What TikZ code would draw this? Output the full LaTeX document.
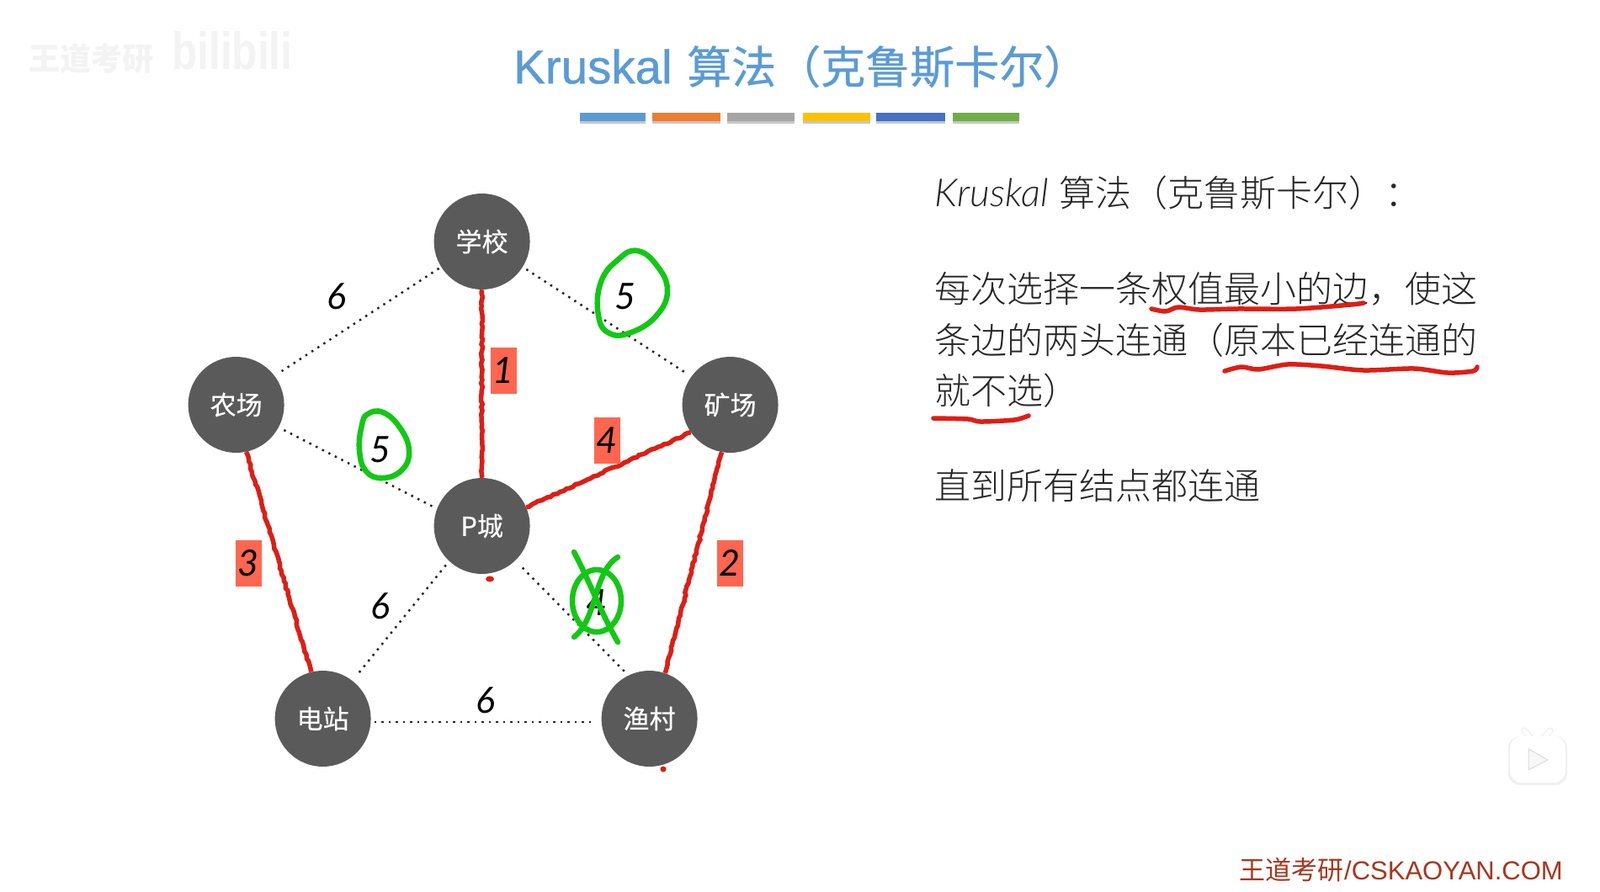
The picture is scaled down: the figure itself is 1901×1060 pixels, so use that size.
\documentclass[tikz,border=0pt]{standalone}
\usepackage{fontspec}
\setmainfont{Liberation Sans}
\newfontfamily\cjk{Noto Sans CJK SC}
\newfontfamily\cjklight{Noto Sans CJK SC Light}
\newfontfamily\cjkmid[FakeBold=0.35]{Noto Sans CJK SC}
\newfontfamily\cjktitle[FakeBold=0.6]{Noto Sans CJK SC}
\newfontfamily\lattitle[FakeBold=0.8]{Liberation Sans}
\newfontfamily\lightf{Lato Light}
\newfontfamily\regf{Lato}
\usetikzlibrary{decorations.pathmorphing}
\definecolor{nodegray}{HTML}{5A5A5A}
\definecolor{titleblue}{HTML}{5B9BD5}
\definecolor{boxred}{HTML}{FF6650}
\definecolor{penred}{HTML}{DD1E16}
\definecolor{pengreen}{HTML}{12C814}
\definecolor{footred}{HTML}{A8361C}
\definecolor{wm}{HTML}{F3F3F3}
\tikzset{
 city/.style={circle,fill=nodegray,minimum size=114pt,inner sep=0pt,text=white,font=\fontsize{31}{31}\selectfont\cjkmid},
 dotedge/.style={black!85,line width=2.5pt,dash pattern=on 2.5pt off 6pt},
 rededge/.style={penred,line width=5.5pt,decorate,decoration={random steps,segment length=4pt,amplitude=1pt}},
 weight/.style={font=\fontsize{43}{43}\selectfont\regf\itshape,inner sep=0pt},
 tag/.style={fill=boxred,minimum width=31pt,minimum height=55pt,inner sep=0pt,font=\fontsize{43}{43}\selectfont\regf\itshape},
 body/.style={anchor=west,inner sep=0pt,text=black!85,font=\fontsize{43}{43}\selectfont\cjklight},
 greenpen/.style={pengreen,line width=6.5pt,line cap=round,line join=round},
 redpen/.style={penred,line width=5.5pt,line cap=round,line join=round},
}
\begin{document}
\begin{tikzpicture}[x=1pt,y=-1pt]
\path[use as bounding box,fill=white] (0,0) rectangle (1901,1060);
% watermark
\node[text=wm,anchor=west,inner sep=0pt,font=\fontsize{37}{37}\selectfont\cjk\bfseries] (wmA) at (34,69) {王道考研};
\node[text=wm,anchor=west,inner sep=0pt,xscale=.8,font=\fontsize{62}{62}\selectfont\bfseries] (wmB) at (204,60) {bilibili};
% title
\node[anchor=west,inner sep=0pt,text=titleblue,font=\fontsize{56.5}{56.5}\selectfont\lattitle] (titleA) at (610,79) {Kruskal};
\node[anchor=west,inner sep=0pt,text=titleblue,font=\fontsize{53}{53}\selectfont\cjktitle] (titleB) at (816,79) {算法（克鲁斯卡尔）};
% bars
\foreach \xa/\xb/\col in {689/767/5B9BD5,775/856/ED7D31,864/944/A5A5A5,954/1034/FFC000,1041/1123/4472C4,1132/1211/70AD47}{
 \fill[black!22] (\xa,143) rectangle (\xb,147);
 \definecolor{barcol}{HTML}{\col}
 \fill[barcol] (\xa,134) rectangle (\xb,144);
}
% cities
\node[city] (school) at (572.6,287) {学校};
\node[city] (farm) at (280.6,481) {农场};
\node[city] (mine) at (867.6,481) {矿场};
\node[city] (pcity) at (572.6,625) {P城};
\node[city] (plant) at (383.6,854) {电站};
\node[city] (fish) at (771.6,854) {渔村};
% dotted edges
\draw[dotedge,shorten <=3pt,shorten >=10pt] (school.212) -- (farm.37);
\draw[dotedge,shorten <=5pt,shorten >=6pt] (school.-32) -- (mine.144);
\draw[dotedge,shorten <=7pt,shorten >=1pt] (farm.-28) -- (pcity.159);
\draw[dotedge,shorten <=6pt,shorten >=10pt] (pcity.-133) -- (plant.52);
\draw[dotedge,shorten <=12pt,shorten >=6pt] (pcity.-46) -- (fish.116);
\draw[dotedge,shorten <=4pt,shorten >=7pt] (plant.-4) -- (fish.184);
% red edges
\draw[rededge] (school) -- (pcity);
\draw[rededge] (pcity.23) -- (mine.215);
\draw[rededge] (farm.-78) -- (plant.104);
\draw[rededge] (mine.-100) -- (fish.71);
% weights
\node[weight] (w1) at (400,352) {6};
\node[weight] (w2) at (743,352) {5};
\node[weight] (w3) at (452,534) {5};
\node[weight] (w4) at (452,720) {6};
\node[weight] (w5) at (709,716) {4};
\node[weight] (w6) at (577,832) {6};
\node[tag] (t1) at (598,440) {1};
\node[tag] (t4) at (721,523) {4};
\node[tag] (t3) at (295,669) {3};
\node[tag] (t2) at (867,669) {2};
% green marks
\draw[greenpen] plot[smooth cycle,tension=.75] coordinates {(735,308) (757,298) (780,315) (793,345) (780,375) (750,395) (724,396) (711,375) (714,335)};
\draw[greenpen] plot[smooth cycle,tension=.75] coordinates {(437,492) (455,490) (475,508) (486,535) (478,558) (455,568) (435,560) (427,535) (430,505)};
\draw[greenpen] (709,714) ellipse (29pt and 37pt);
\draw[greenpen] (682,656) .. controls (700,690) and (715,730) .. (734,763);
\draw[greenpen] (734,662) .. controls (705,680) and (710,735) .. (682,757);
% red dots
\fill[penred] (582,688) ellipse (5pt and 3.5pt);
\fill[penred] (788,914) circle (3.5pt);
% body text
\node[anchor=west,inner sep=0pt,text=black!85,font=\fontsize{46}{46}\selectfont\lightf\itshape] (kA) at (1110,229) {Kruskal};
\node[body] (kB) at (1258,229) {算法（克鲁斯卡尔）：};
\node[body] (l1) at (1110,343) {每次选择一条权值最小的边，使这};
\node[body] (l2) at (1110,404) {条边的两头连通（原本已经连通的};
\node[body] (l3) at (1110,464) {就不选）};
\node[body] (l4) at (1110,577) {直到所有结点都连通};
% underlines
\draw[redpen] plot[smooth,tension=.5] coordinates {(1368,367) (1385,370) (1400,365) (1425,368) (1470,367) (1540,367) (1605,362) (1620,360)};
\draw[redpen] plot[smooth,tension=.5] coordinates {(1455,441) (1475,436) (1495,439) (1530,433) (1570,435) (1620,440) (1680,438) (1720,443) (1750,441) (1755,436)};
\draw[redpen] plot[smooth,tension=.5] coordinates {(1109,497) (1150,498) (1165,501) (1205,499) (1222,494)};
% footer
\node[anchor=west,inner sep=0pt,text=footred,font=\fontsize{31}{31}\selectfont\cjk] (f1) at (1472,1034) {王道考研};
\node[anchor=west,inner sep=0pt,text=footred,font=\fontsize{31}{31}\selectfont] (f2) at (1597,1034) {/CSKAOYAN.COM};
% player icon
\draw[black!8,line width=7pt,line cap=round] (1811,868) -- (1820,878) (1842,868) -- (1833,878);
\draw[white,line width=5pt,line cap=round] (1811,868) -- (1820,878) (1842,868) -- (1833,878);
\fill[black!6,rounded corners=14pt] (1792,875) rectangle (1862,933);
\fill[white,rounded corners=14pt] (1794,875) rectangle (1860,930);
\draw[black!14,fill=black!3,line width=1pt,line join=round] (1816,890) -- (1839,903) -- (1816,915) -- cycle;
\end{tikzpicture}
\end{document}
